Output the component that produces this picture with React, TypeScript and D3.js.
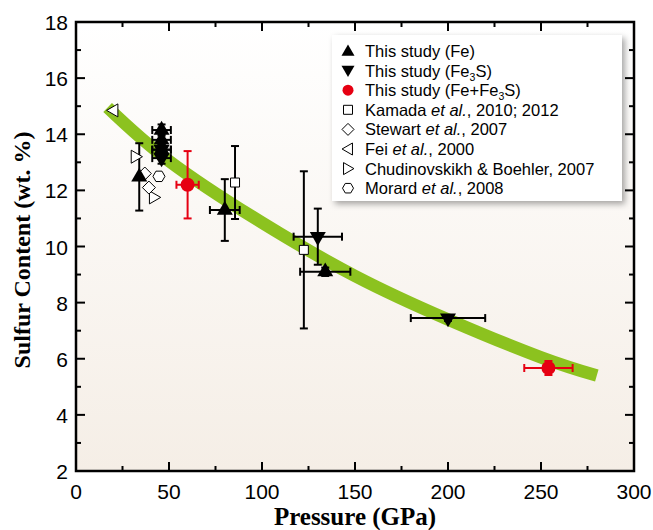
import React from "react";
import * as d3 from "d3";

// fitted trend (green band)
const trendP = [17, 50, 100, 150, 200, 250, 280];
const trendS = [14.95, 13.05, 10.85, 8.95, 7.4, 6.05, 5.4];

// This study (Fe)
const feP = [34, 46, 46, 46, 80, 134];
const feS = [12.48, 14.15, 13.8, 13.45, 11.3, 9.1];
const feXErr = [0, 5, 5, 5, 8, 13.5];
const feYErr = [1.2, 0.2, 0.2, 0.2, 1.1, 0.15];

// This study (Fe3S)
const fe3sP = [46, 46, 130, 200];
const fe3sS = [13.45, 13.15, 10.35, 7.45];
const fe3sXErr = [5, 5, 13, 20];
const fe3sYErr = [0.2, 0.2, 1.0, 0.1];

// This study (Fe+Fe3S)
const mixP = [60, 254];
const mixS = [12.2, 5.67];
const mixXErr = [6, 13];
const mixYErr = [1.2, 0.25];

// literature
const kamadaP = [85.5, 122.5];
const kamadaS = [12.28, 9.88];
const kamadaYErr = [1.3, 2.8];
const stewartP = [39.2, 37];
const stewartS = [12.1, 12.6];
const feiP = [20.5];
const feiS = [14.85];
const chudP = [31.7, 41.5];
const chudS = [13.2, 11.75];
const morardP = [44.6];
const morardS = [12.5];

const xTicks = [0, 50, 100, 150, 200, 250, 300];
const yTicks = [2, 4, 6, 8, 10, 12, 14, 16, 18];

const RED = "#e60012";
const GREEN = "#8cc21f";

const W = 653;
const H = 530;
const plot = { left: 76, right: 634, top: 22, bottom: 471 };

const x = d3.scaleLinear().domain([0, 300]).range([plot.left, plot.right]);
const y = d3.scaleLinear().domain([2, 18]).range([plot.bottom, plot.top]);

const triUp = (cx: number, cy: number, s: number) => {
  const h = s * 0.866;
  return `M${cx},${cy - (2 * h) / 3}L${cx + s / 2},${cy + h / 3}L${cx - s / 2},${cy + h / 3}Z`;
};
const triDown = (cx: number, cy: number, s: number) => {
  const h = s * 0.866;
  return `M${cx},${cy + (2 * h) / 3}L${cx + s / 2},${cy - h / 3}L${cx - s / 2},${cy - h / 3}Z`;
};
const triLeft = (cx: number, cy: number, s: number) => {
  const h = s * 0.866;
  return `M${cx - (2 * h) / 3},${cy}L${cx + h / 3},${cy - s / 2}L${cx + h / 3},${cy + s / 2}Z`;
};
const triRight = (cx: number, cy: number, s: number) => {
  const h = s * 0.866;
  return `M${cx + (2 * h) / 3},${cy}L${cx - h / 3},${cy - s / 2}L${cx - h / 3},${cy + s / 2}Z`;
};
const diamond = (cx: number, cy: number, r: number) =>
  `M${cx},${cy - r}L${cx + r},${cy}L${cx},${cy + r}L${cx - r},${cy}Z`;
const hexagon = (cx: number, cy: number, r: number) =>
  d3.range(6).map((i) => {
    const a = (Math.PI / 3) * i;
    return `${i ? "L" : "M"}${cx + r * Math.cos(a)},${cy + r * Math.sin(a)}`;
  }).join("") + "Z";
const square = (cx: number, cy: number, s: number) =>
  `M${cx - s / 2},${cy - s / 2}h${s}v${s}h${-s}Z`;

const ErrorBars = ({ P, S, xe, ye, color }: any) => (
  <g stroke={color} strokeWidth={2} fill="none">
    {P.map((p: number, i: number) => {
      const cx = x(p);
      const cy = y(S[i]);
      const c = 4;
      return (
        <g key={i}>
          {xe && xe[i] > 0 && (
            <>
              <line x1={x(p - xe[i])} x2={x(p + xe[i])} y1={cy} y2={cy} />
              <line x1={x(p - xe[i])} x2={x(p - xe[i])} y1={cy - c} y2={cy + c} />
              <line x1={x(p + xe[i])} x2={x(p + xe[i])} y1={cy - c} y2={cy + c} />
            </>
          )}
          {ye && ye[i] > 0 && (
            <>
              <line x1={cx} x2={cx} y1={y(S[i] - ye[i])} y2={y(S[i] + ye[i])} />
              <line x1={cx - c} x2={cx + c} y1={y(S[i] - ye[i])} y2={y(S[i] - ye[i])} />
              <line x1={cx - c} x2={cx + c} y1={y(S[i] + ye[i])} y2={y(S[i] + ye[i])} />
            </>
          )}
        </g>
      );
    })}
  </g>
);

const legendItems = [
  { key: "fe", label: <>This study (Fe)</> },
  { key: "fe3s", label: <>This study (Fe<tspan fontSize="10.5" dy="4">3</tspan><tspan dy="-4">S)</tspan></> },
  { key: "mix", label: <>This study (Fe+Fe<tspan fontSize="10.5" dy="4">3</tspan><tspan dy="-4">S)</tspan></> },
  { key: "kamada", label: <>Kamada <tspan fontStyle="italic">et al.</tspan>, 2010; 2012</> },
  { key: "stewart", label: <>Stewart <tspan fontStyle="italic">et al.</tspan>, 2007</> },
  { key: "fei", label: <>Fei <tspan fontStyle="italic">et al.</tspan>, 2000</> },
  { key: "chud", label: <>Chudinovskikh &amp; Boehler, 2007</> },
  { key: "morard", label: <>Morard <tspan fontStyle="italic">et al.</tspan>, 2008</> },
];

const legendMarker = (key: string, cx: number, cy: number) => {
  switch (key) {
    case "fe": return <path d={triUp(cx, cy + 1, 13)} fill="black" />;
    case "fe3s": return <path d={triDown(cx, cy - 1, 13)} fill="black" />;
    case "mix": return <circle cx={cx} cy={cy} r={5.5} fill={RED} />;
    case "kamada": return <path d={square(cx, cy, 9)} fill="white" stroke="black" strokeWidth={1} />;
    case "stewart": return <path d={diamond(cx, cy, 6)} fill="white" stroke="black" strokeWidth={1} />;
    case "fei": return <path d={triLeft(cx + 1, cy, 12)} fill="white" stroke="black" strokeWidth={1} />;
    case "chud": return <path d={triRight(cx - 1, cy, 12)} fill="white" stroke="black" strokeWidth={1} />;
    default: return <path d={hexagon(cx, cy, 5.5)} fill="white" stroke="black" strokeWidth={1} />;
  }
};

export default function App() {
  const trend = d3.line<number>()
    .x((p) => x(p))
    .y((_, i) => y(trendS[i]))
    .curve(d3.curveNatural)(trendP);

  const minorX = d3.range(0, 301, 25);
  const minorY = d3.range(2, 18.1, 1);
  const tickFont = "'Liberation Sans', Arial, sans-serif";
  const serif = "'Liberation Serif', 'Times New Roman', serif";

  return (
    <svg width={W} height={H} style={{ position: "absolute", left: 0, top: 0 }}
      fontFamily={tickFont}>
      <defs>
        <linearGradient id="bg" x1="0" y1="0" x2="0" y2="1">
          <stop offset="0" stopColor="#ffffff" />
          <stop offset="1" stopColor="#f5eee6" />
        </linearGradient>
        <filter id="shadow" x="-10%" y="-10%" width="130%" height="130%">
          <feDropShadow dx="3" dy="3" stdDeviation="3" floodColor="#000" floodOpacity="0.35" />
        </filter>
      </defs>
      <rect x={plot.left} y={plot.top} width={plot.right - plot.left}
        height={plot.bottom - plot.top} fill="url(#bg)" />

      {/* ticks, inside on all four sides */}
      <g stroke="black" strokeWidth={2}>
        {minorX.map((v) => {
          const len = v % 50 === 0 ? 9 : 5;
          return (
            <g key={`x${v}`}>
              <line x1={x(v)} x2={x(v)} y1={plot.bottom} y2={plot.bottom - len} />
              <line x1={x(v)} x2={x(v)} y1={plot.top} y2={plot.top + len} />
            </g>
          );
        })}
        {minorY.map((v) => {
          const len = v % 2 === 0 ? 9 : 5;
          return (
            <g key={`y${v}`}>
              <line x1={plot.left} x2={plot.left + len} y1={y(v)} y2={y(v)} />
              <line x1={plot.right} x2={plot.right - len} y1={y(v)} y2={y(v)} />
            </g>
          );
        })}
      </g>

      <path d={trend ?? ""} fill="none" stroke={GREEN} strokeWidth={12.5} />

      <ErrorBars P={kamadaP} S={kamadaS} ye={kamadaYErr} color="black" />
      <ErrorBars P={feP} S={feS} xe={feXErr} ye={feYErr} color="black" />
      <ErrorBars P={fe3sP} S={fe3sS} xe={fe3sXErr} ye={fe3sYErr} color="black" />
      <ErrorBars P={mixP} S={mixS} xe={mixXErr} ye={mixYErr} color={RED} />

      <g fill="white" stroke="black" strokeWidth={1}>
        {feiP.map((p, i) => <path key={`fei${i}`} d={triLeft(x(p), y(feiS[i]), 13)} />)}
        {chudP.map((p, i) => <path key={`ch${i}`} d={triRight(x(p), y(chudS[i]), 13)} />)}
        {stewartP.map((p, i) => <path key={`st${i}`} d={diamond(x(p), y(stewartS[i]), 6.5)} />)}
        {morardP.map((p, i) => <path key={`mo${i}`} d={hexagon(x(p), y(morardS[i]), 6)} />)}
        {kamadaP.map((p, i) => <path key={`ka${i}`} d={square(x(p), y(kamadaS[i]), 9)} />)}
      </g>
      <g fill="black">
        {feP.map((p, i) => <path key={`fe${i}`} d={triUp(x(p), y(feS[i]), 16)} />)}
        {fe3sP.map((p, i) => <path key={`f3${i}`} d={triDown(x(p), y(fe3sS[i]), 16)} />)}
      </g>
      <g fill={RED}>
        {mixP.map((p, i) => <circle key={`mx${i}`} cx={x(p)} cy={y(mixS[i])} r={7} />)}
      </g>

      {/* frame */}
      <rect x={plot.left} y={plot.top} width={plot.right - plot.left}
        height={plot.bottom - plot.top} fill="none" stroke="black" strokeWidth={2.5} />

      {/* tick labels */}
      <g fontSize={21} fill="black">
        {xTicks.map((v) => (
          <text key={v} x={x(v)} y={plot.bottom + 28} textAnchor="middle">{v}</text>
        ))}
        {yTicks.map((v) => (
          <text key={v} x={plot.left - 8} y={y(v) + 8} textAnchor="end">{v}</text>
        ))}
      </g>

      {/* axis titles */}
      <text x={355} y={525} textAnchor="middle"
        fontFamily={serif} fontWeight="bold" fontSize={25}>
        Pressure (GPa)
      </text>
      <text transform="translate(30,250) rotate(-90)"
        textAnchor="middle" fontFamily={serif} fontWeight="bold" fontSize={24}>
        Sulfur Content (wt. %)
      </text>

      {/* legend */}
      <rect x={332} y={35} width={290} height={166} fill="white" filter="url(#shadow)" />
      <g fontSize={16.5} fill="black">
        {legendItems.map((it, i) => {
          const cy = 51 + i * 19.6;
          return (
            <g key={it.key}>
              {legendMarker(it.key, 348, cy)}
              <text x={365} y={cy + 6}>{it.label}</text>
            </g>
          );
        })}
      </g>
    </svg>
  );
}
